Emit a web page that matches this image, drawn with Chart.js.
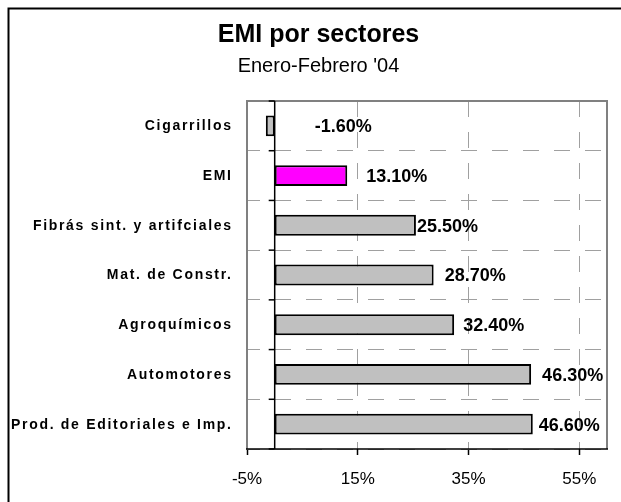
<!DOCTYPE html>
<html>
<head>
<meta charset="utf-8">
<script src="https://cdn.jsdelivr.net/npm/chart.js@4/dist/chart.umd.min.js"></script>
<style>
html,body{margin:0;padding:0;background:#fff;}
#wrap{width:621px;height:502px;position:relative;}
canvas{display:block;}
</style>
</head>
<body>
<div id="wrap"><canvas id="c" width="621" height="502"></canvas></div>
<script>
// ---- data ----
const categories = ['Cigarrillos', 'EMI', 'Fibrás sint. y artifciales', 'Mat. de Constr.', 'Agroquímicos', 'Automotores', 'Prod. de Editoriales e Imp.'];
const values = [-1.6, 13.1, 25.5, 28.7, 32.4, 46.3, 46.6];
const xTicks = [-5, 15, 35, 55];
const highlight = 'EMI';

// ---- styles ----
const labelGap = [49, 19, 1, 11, 9, 11, 6];
const FONT = '"Liberation Sans", Arial, sans-serif';
Chart.defaults.font.family = FONT;
Chart.defaults.color = '#000';

const decor = {
  id: 'decor',
  beforeDraw(chart) {
    const ctx = chart.ctx;
    ctx.save();
    ctx.fillStyle = '#fff';
    ctx.fillRect(0, 0, chart.width, chart.height);
    ctx.restore();
  },
  afterDatasetsDraw(chart) {
    const ctx = chart.ctx;
    const meta = chart.getDatasetMeta(0);
    ctx.save();
    ctx.font = 'bold 18px ' + FONT;
    ctx.fillStyle = '#000';
    ctx.textAlign = 'left';
    ctx.textBaseline = 'middle';
    meta.data.forEach((bar, i) => {
      const v = values[i];
      const txt = v.toFixed(2) + '%';
      ctx.fillText(txt, bar.x + labelGap[i], bar.y + 1.5);
    });
    ctx.restore();
  },
  afterDraw(chart) {
    const ctx = chart.ctx;
    const a = chart.chartArea;
    const xs = chart.scales.x, ys = chart.scales.y;
    ctx.save();
    // plot border (grey)
    ctx.strokeStyle = '#808080';
    ctx.lineWidth = 2;
    ctx.beginPath();
    ctx.moveTo(a.left, a.bottom);
    ctx.lineTo(a.left, a.top);
    ctx.lineTo(a.right, a.top);
    ctx.lineTo(a.right, a.bottom);
    ctx.stroke();
    // x axis line
    ctx.strokeStyle = '#000';
    ctx.lineWidth = 1.5;
    ctx.beginPath();
    ctx.moveTo(a.left - 1, a.bottom);
    ctx.lineTo(a.right + 1, a.bottom);
    ctx.stroke();
    // zero line
    const x0 = xs.getPixelForValue(0);
    ctx.beginPath();
    ctx.moveTo(x0, a.top);
    ctx.lineTo(x0, a.bottom);
    ctx.stroke();
    // tick marks on zero line at category boundaries
    const n = categories.length;
    for (let i = 0; i <= n; i++) {
      const y = ys.getPixelForValue(i - 0.5);
      ctx.beginPath();
      ctx.moveTo(x0 - 6, y);
      ctx.lineTo(x0, y);
      ctx.stroke();
    }
    // category labels (letter-spaced)
    ctx.font = 'bold 14px ' + FONT;
    ctx.fillStyle = '#000';
    ctx.textAlign = 'right';
    ctx.textBaseline = 'middle';
    const sp = 1.7;
    try { ctx.letterSpacing = sp + 'px'; } catch (e) {}
    categories.forEach((c, i) => {
      ctx.fillText(c, a.left - 16 + sp, ys.getPixelForValue(i) + 0.5);
    });
    try { ctx.letterSpacing = '0px'; } catch (e) {}
    // outer frame
    ctx.strokeStyle = '#000';
    ctx.lineWidth = 2;
    ctx.beginPath();
    ctx.moveTo(8.5, chart.height);
    ctx.lineTo(8.5, 8.5);
    ctx.lineTo(chart.width, 8.5);
    ctx.stroke();
    ctx.restore();
  }
};

new Chart(document.getElementById('c'), {
  type: 'bar',
  data: {
    labels: categories,
    datasets: [{
      data: values,
      backgroundColor: categories.map(c => c === highlight ? '#ff00ff' : '#c0c0c0'),
      borderColor: '#000',
      borderWidth: 2,
      borderSkipped: false,
      barPercentage: 0.42,
      categoryPercentage: 1
    }]
  },
  options: {
    indexAxis: 'y',
    responsive: false,
    animation: false,
    devicePixelRatio: 1,
    layout: { padding: { left: 30, right: 14, top: 0, bottom: 0 } },
    plugins: {
      legend: { display: false },
      tooltip: { enabled: false },
      title: {
        display: true,
        text: 'EMI por sectores',
        color: '#000',
        font: { family: FONT, size: 25, weight: 'bold', lineHeight: 1.2 },
        padding: { top: 20, bottom: 4 }
      },
      subtitle: {
        display: true,
        text: "Enero-Febrero '04",
        color: '#000',
        font: { family: FONT, size: 20, weight: 'normal', lineHeight: 1.2 },
        padding: { top: 0, bottom: 23 }
      }
    },
    scales: {
      x: {
        type: 'linear',
        min: -5,
        max: 60,
        afterBuildTicks: s => { s.ticks = xTicks.map(v => ({ value: v })); },
        afterFit: s => { s.height = 53; },
        ticks: {
          callback: v => v + '%',
          color: '#000',
          font: { family: FONT, size: 17 },
          padding: 14,
          maxRotation: 0,
          autoSkip: false
        },
        grid: {
          color: '#a0a0a0',
          lineWidth: 1,
          tickColor: '#000',
          tickLength: 6,
          tickWidth: 1.5,
          tickBorderDash: []
        },
        border: { display: false, dash: [16, 15], dashOffset: 0 }
      },
      y: {
        afterFit: s => { s.width = 217; },
        ticks: { display: false },
        grid: { offset: true, color: '#a0a0a0', lineWidth: 1, drawTicks: false },
        border: { display: false, dash: [16, 15], dashOffset: 3 }
      }
    }
  },
  plugins: [decor]
});
</script>
</body>
</html>
